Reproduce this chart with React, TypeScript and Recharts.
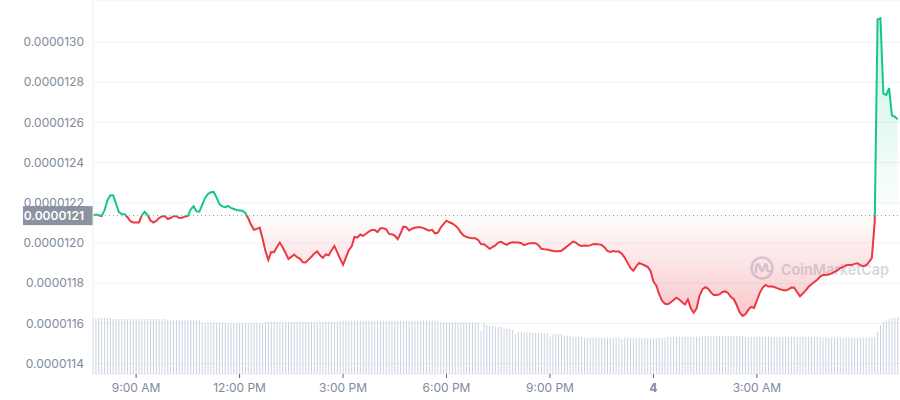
import React from 'react'
import { ComposedChart, Area, Bar, XAxis, YAxis, CartesianGrid, ReferenceLine } from 'recharts'

// price in units of 1e-7 (121.36 => 0.0000121), one value every 5 minutes
const price = [
  121.36,121.42,121.38,121.34,121.62,122.12,122.36,122.37,121.97,121.54,
  121.44,121.43,121.28,121.08,121.02,121.02,121.02,121.38,121.55,121.39,
  121.12,121.02,121.10,121.24,121.32,121.34,121.19,121.24,121.33,121.33,
  121.24,121.25,121.32,121.35,121.66,121.83,121.58,121.56,121.90,122.24,
  122.44,122.52,122.54,122.26,121.93,121.82,121.78,121.84,121.75,121.69,
  121.64,121.62,121.60,121.49,121.23,120.90,120.66,120.70,120.76,120.22,
  119.60,119.16,119.55,119.54,119.80,120.02,119.79,119.50,119.20,119.31,
  119.42,119.29,119.22,119.04,119.03,119.17,119.31,119.48,119.58,119.39,
  119.26,119.43,119.39,119.64,119.85,119.53,119.21,118.91,119.27,119.64,
  119.83,120.30,120.27,120.42,120.35,120.46,120.57,120.65,120.65,120.54,
  120.73,120.73,120.68,120.45,120.43,120.37,120.19,120.47,120.81,120.79,
  120.62,120.71,120.76,120.78,120.78,120.74,120.67,120.61,120.65,120.48,
  120.51,120.77,120.95,121.11,121.03,120.97,120.87,120.74,120.52,120.36,
  120.30,120.26,120.23,120.23,120.15,119.95,119.94,119.84,119.71,119.79,
  119.88,120.02,120.06,119.97,119.91,120.00,120.03,120.02,120.02,119.99,
  119.89,119.94,119.99,119.99,119.99,119.89,119.71,119.69,119.68,119.64,
  119.60,119.59,119.59,119.61,119.72,119.84,119.95,120.07,120.02,119.90,
  119.85,119.87,119.86,119.88,119.94,119.95,119.93,119.90,119.78,119.60,
  119.55,119.60,119.57,119.57,119.47,119.27,119.01,118.76,118.62,118.83,
  119.01,118.95,118.88,118.81,118.61,118.08,117.89,117.45,117.13,116.97,
  116.95,117.04,117.16,117.28,117.19,117.05,116.94,117.19,116.75,116.53,
  116.74,117.35,117.68,117.80,117.73,117.54,117.41,117.41,117.44,117.56,
  117.59,117.50,117.31,117.20,116.90,116.55,116.37,116.45,116.67,116.82,
  116.77,117.13,117.52,117.77,117.91,117.83,117.85,117.81,117.75,117.70,
  117.66,117.64,117.69,117.78,117.77,117.55,117.35,117.48,117.64,117.82,
  117.95,118.06,118.17,118.33,118.41,118.41,118.43,118.49,118.56,118.64,
  118.75,118.80,118.89,118.91,118.91,118.96,118.99,118.90,118.84,118.89,
  119.06,119.25,121.05,131.12,131.18,127.44,127.36,127.71,126.34,126.29,126.15,
]

// volume, same 5 minute steps (relative units)
const volume = [
  56,56,56,56,56,56,56,55,55,55,
  55,55,55,55,55,55,55,55,55,55,
  55,55,55,55,55,55,54,54,54,54,
  54,54,54,54,54,54,54,54,51.5,51.5,
  51.5,51.5,51.5,51.5,51.5,51.5,51.5,50.7,50.7,50.7,
  50.7,51,51,51,51,51,51,51,51,51,
  52.3,52.3,52.3,52.3,52.3,52.3,52.3,52.3,52.3,52.3,
  52.3,52.3,52.3,52.3,52.3,52.3,52.3,52.3,52.3,52.3,
  52.3,52.3,52.3,52.3,52.3,52.3,53.3,53.3,53.3,53.3,
  53.3,53.3,53.3,53.3,53.3,53.3,53.3,53.3,53.3,53.3,
  53.3,53,53,53,53,53,53,53,53,53,
  53,53.2,53.2,53.2,53.2,53.2,53.2,53.2,53.2,53.2,
  53.2,51.7,51.7,51.7,51.7,51.7,51.7,51.7,51.7,51.7,
  51.7,51.7,51.7,51.7,51.7,43,50.7,49,48,47.5,
  47.3,47.3,47,45.3,45.3,45.3,44,40,42.3,42.3,
  41.7,41.7,41.7,41.3,41,41,41,41,41,37.3,
  40,40,40,40,38.3,38.3,38.3,37.3,37.3,37.3,
  37.3,36.3,36.3,36.3,36.3,36.3,36.3,36.3,36.3,36.3,
  36.3,36.3,36.3,36.3,35,36.3,36.3,36.3,35.7,35.7,
  35.7,35.7,35.7,35.7,35.7,35.7,35.7,36.3,36.3,36.3,
  37.3,37.3,37.3,37.3,37.3,37.3,37.3,37.3,37.3,37.3,
  37.3,37.3,38.3,38.3,38.3,38.3,38.3,38.3,38.3,38.3,
  38.3,38.3,38.3,38.3,38.3,38.3,38.3,37.3,37.3,37.3,
  37.3,37.3,37.3,37.3,37.3,37.3,37.3,37.3,37.3,37.3,
  37.3,37.3,37.3,37.3,37.3,37.3,37.3,37.3,37.3,37.3,
  37.3,37.3,37.3,37.3,36.5,36.5,36.5,36.5,36.5,36.5,
  36.5,36.5,36.5,36.5,36.5,36.5,36.5,36.5,36.5,36.5,
  36.5,36.5,36.5,42,49,52,53.5,55,56,56.5,56.8,
]

const STEP = 5 // minutes between points, t=0 is 7:45 AM
const xTicks = [75, 255, 435, 615, 795, 975, 1155]
const xTickLabels = ['9:00 AM', '12:00 PM', '3:00 PM', '6:00 PM', '9:00 PM', '4', '3:00 AM']
const yTicks = [114, 116, 118, 120, 122, 124, 126, 128, 130]
const BASE = 121.36

const GREEN = '#16c784'
const RED = '#ea3943'
const GREY = '#808a9d'

const data = price.map((p, i) => ({ t: i * STEP, price: p, volume: volume[i] }))

const maxP = Math.max(...price)
const minP = Math.min(...price)
const off = (maxP - BASE) / (maxP - minP)

const fmt = (v: number) => (v * 1e-7).toFixed(7)

function XTick({ x, y, payload }: any) {
  const label = xTickLabels[xTicks.indexOf(payload.value)]
  const day = label === '4'
  return (
    <g transform={`translate(${x},${y})`}>
      <line x1={0} x2={0} y1={0} y2={4} stroke="#5b6370" />
      <text y={18} textAnchor="middle" fill={GREY} fontSize={12} fontWeight={day ? 700 : 400}>
        {label}
      </text>
    </g>
  )
}

function BaseLabel(props: any) {
  const vb = props.viewBox || {}
  return (
    <g>
      <rect x={vb.x - 70} y={vb.y - 9.5} width={70} height={19} fill="#8c93a0" />
      <text x={vb.x - 9} y={vb.y + 4} textAnchor="end" fill="#fff" fontSize={12} fontWeight={600}>
        {fmt(BASE)}
      </text>
    </g>
  )
}

export default function App() {
  return (
    <div style={{ position: 'absolute', left: 0, top: 0, width: 900, height: 400, background: '#fff', fontFamily: 'Inter, sans-serif' }}>
      <svg width={900} height={400} style={{ position: 'absolute', left: 0, top: 0 }}>
        <g transform="translate(762,268)" fill="none" stroke="#d3d9e3" strokeWidth={2.5} strokeLinecap="round" strokeLinejoin="round">
          <circle r={10.5} />
          <path d="M-6,4 L-6,-1 Q-5,-5 -3,-3 L-1,2 Q0,4 1,2 L3,-3 Q4,-5 5,-2 L5,2 Q6,4 8,3" />
        </g>
        <text x={781} y={275} fontSize={15} fontWeight={600} fill="#d3d9e3" textLength={108} lengthAdjust="spacingAndGlyphs">
          CoinMarketCap
        </text>
      </svg>
      <div style={{ position: 'absolute', left: 0, top: 0 }}>
        <ComposedChart width={900} height={400} data={data} margin={{ top: 0, right: 0, bottom: 0, left: 0 }}>
          <defs>
            <linearGradient id="cmcLine" x1="0" y1="0" x2="0" y2="1">
              <stop offset={0} stopColor={GREEN} />
              <stop offset={off} stopColor={GREEN} />
              <stop offset={off} stopColor={RED} />
              <stop offset={1} stopColor={RED} />
            </linearGradient>
            <linearGradient id="cmcFill" x1="0" y1="0" x2="0" y2="1">
              <stop offset={0} stopColor={GREEN} stopOpacity={0.22} />
              <stop offset={off} stopColor={GREEN} stopOpacity={0.01} />
              <stop offset={off} stopColor={RED} stopOpacity={0.01} />
              <stop offset={1} stopColor={RED} stopOpacity={0.28} />
            </linearGradient>
          </defs>
          <CartesianGrid yAxisId="price" vertical={false} stroke="#eff2f5" />
          <XAxis
            dataKey="t"
            type="number"
            domain={[0, 1404]}
            ticks={xTicks}
            interval={0}
            tick={<XTick />}
            tickLine={false}
            axisLine={false}
            tickSize={0}
            tickMargin={0}
            height={26}
          />
          <YAxis
            yAxisId="price"
            domain={[113.48, 132.09]}
            ticks={yTicks}
            tickFormatter={fmt}
            tick={{ fill: GREY, fontSize: 12 }}
            tickLine={false}
            tickMargin={3}
            axisLine={{ stroke: '#e9edf1' }}
            width={93}
            allowDataOverflow
          />
          <YAxis yAxisId="vol" hide domain={[0, 374]} />
          <Bar yAxisId="vol" dataKey="volume" fill="#c9d1e0" barSize={1} isAnimationActive={false} />
          <Area
            yAxisId="price"
            type="linear"
            dataKey="price"
            baseValue={BASE}
            stroke="url(#cmcLine)"
            strokeWidth={2}
            fill="url(#cmcFill)"
            fillOpacity={1}
            dot={false}
            activeDot={false}
            isAnimationActive={false}
          />
          <ReferenceLine yAxisId="price" y={BASE} stroke="#8f96a3" strokeDasharray="1 3" label={(p: any) => <BaseLabel {...p} />} />
        </ComposedChart>
      </div>
    </div>
  )
}
